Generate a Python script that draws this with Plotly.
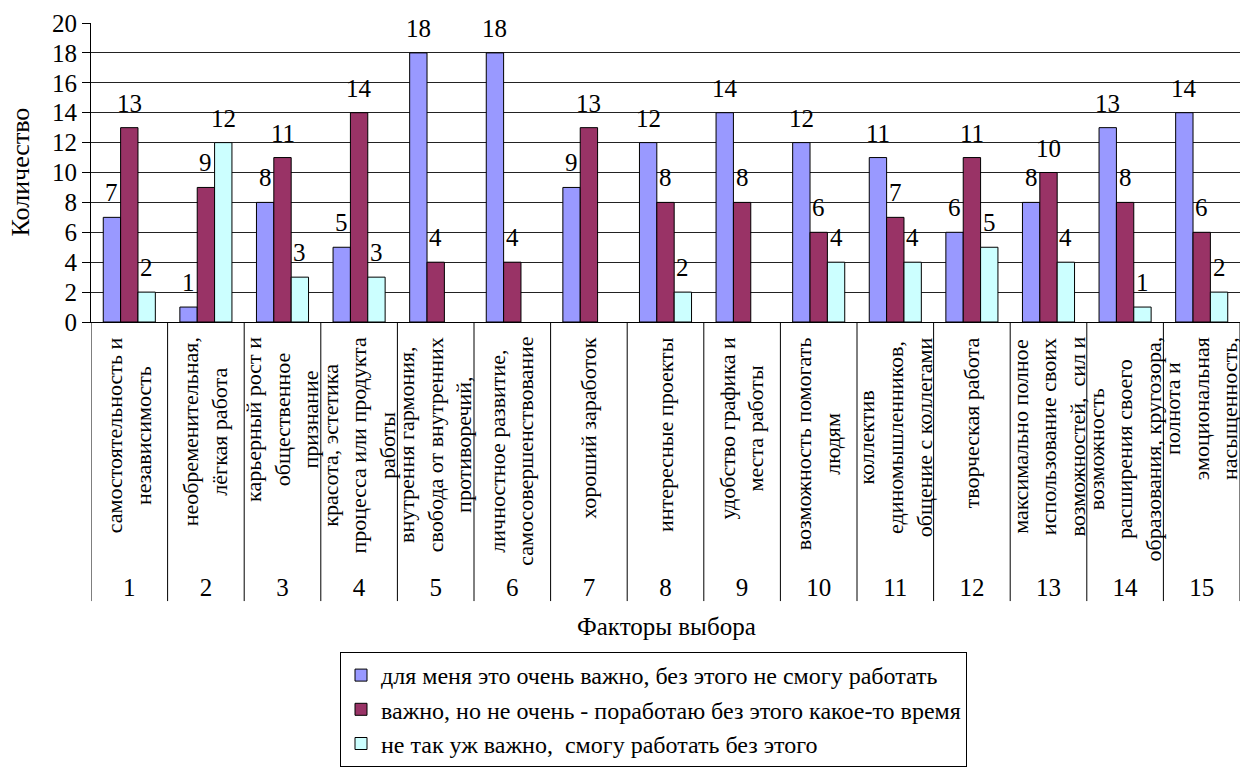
import plotly.graph_objects as go

# Factor numbers and their descriptions (line breaks as printed under the axis)
factor_ids = [str(i) for i in range(1, 16)]
factor_names = [
    "самостоятельность и<br>независимость",
    "необременительная,<br>лёгкая работа",
    "карьерный рост и<br>общественное<br>признание",
    "красота, эстетика<br>процесса или продукта<br>работы",
    "внутрення гармония,<br>свобода от внутренних<br>противоречий,",
    "личностное развитие,<br>самосовершенствование",
    "хороший заработок",
    "интересные проекты",
    "удобство графика и<br>места работы",
    "возможность помогать<br>людям",
    "коллектив<br>единомышленников,<br>общение с коллегами",
    "творческая работа",
    "максимально полное<br>использование своих<br>возможностей,  сил и",
    "возможность<br>расширения своего<br>образования, кругозора,",
    "полнота и<br>эмоциональная<br>насыщенность,",
]

series_names = [
    "для меня это очень важно, без этого не смогу работать",
    "важно, но не очень - поработаю без этого какое-то время",
    "не так уж важно,  смогу работать без этого",
]
very_important = [7, 1, 8, 5, 18, 18, 9, 12, 14, 12, 11, 6, 8, 13, 14]
somewhat_important = [13, 9, 11, 14, 4, 4, 13, 8, 8, 6, 7, 11, 10, 8, 6]
not_important = [2, 12, 3, 3, 0, 0, 0, 2, 0, 4, 4, 5, 4, 1, 2]
series_values = [very_important, somewhat_important, not_important]
series_colors = ["#9999FF", "#993366", "#CCFFFF"]

FONT = "Liberation Serif"
W, H = 1240, 767
ML, MR, MT, MB = 91, 0, 23, 444
BARGAP = 0.32

plot_w = W - ML - MR
plot_h = H - MT - MB
cat_w = plot_w / len(factor_ids)
bar_w = cat_w * (1 - BARGAP) / len(series_values)


def py(pixel_y):
    """Pixel row -> paper y."""
    return (H - MB - pixel_y) / plot_h


def px(pixel_x):
    """Pixel column -> paper x."""
    return (pixel_x - ML) / plot_w


fig = go.Figure()
for name, vals, col in zip(series_names, series_values, series_colors):
    fig.add_trace(go.Bar(
        x=factor_ids, y=vals, name=name,
        marker=dict(color=col,
                    line=dict(color="black", width=[1 if v else 0 for v in vals])),
    ))

# value labels above bars (zero values are not labelled)
for k, vals in enumerate(series_values):
    for i, v in enumerate(vals):
        if v == 0:
            continue
        fig.add_annotation(
            x=i, y=v, xref="x", yref="y", text=str(v), showarrow=False,
            xshift=(k - 1) * bar_w, yshift=9, yanchor="bottom", xanchor="center",
            font=dict(family=FONT, size=25, color="black"),
        )

# factor descriptions, rotated, below the axis
for i, label in enumerate(factor_names):
    fig.add_annotation(
        x=i, y=py(336), xref="x", yref="paper", text=label, showarrow=False,
        textangle=-90, xanchor="center", yanchor="top", align="center",
        font=dict(family=FONT, size=22, color="black"),
    )

# axis titles
fig.add_annotation(
    x=px(20), y=py(173), xref="paper", yref="paper", text="Количество",
    showarrow=False, textangle=-90, xanchor="center", yanchor="middle",
    font=dict(family=FONT, size=26, color="black"),
)
fig.add_annotation(
    x=px(666), y=py(629), xref="paper", yref="paper", text="Факторы выбора",
    showarrow=False, xanchor="center", yanchor="middle",
    font=dict(family=FONT, size=25, color="black"),
)

# vertical separators between category cells
for i in range(len(factor_ids) + 1):
    fig.add_shape(
        type="line", xref="x", yref="paper", x0=i - 0.5, x1=i - 0.5,
        y0=0, y1=py(603), line=dict(color="black", width=1),
    )

fig.update_layout(
    width=W, height=H,
    margin=dict(l=ML, r=MR, t=MT, b=MB),
    paper_bgcolor="white", plot_bgcolor="white",
    barmode="group", bargap=BARGAP, bargroupgap=0,
    font=dict(family=FONT, size=24, color="black"),
    showlegend=True,
    legend=dict(
        x=px(340), y=py(655), xanchor="left", yanchor="top",
        orientation="v", bgcolor="white", bordercolor="black", borderwidth=1,
        font=dict(family=FONT, size=24, color="black"),
        tracegroupgap=0,
    ),
)
fig.update_xaxes(
    type="category", showline=True, linecolor="black", linewidth=1,
    showgrid=False, ticks="", ticklabelstandoff=243,
    tickfont=dict(family=FONT, size=25, color="black"),
    range=[-0.5, len(factor_ids) - 0.5],
)
fig.update_yaxes(
    range=[0, 20], dtick=2, showline=True, linecolor="black", linewidth=1,
    showgrid=True, gridcolor="#222222", gridwidth=1,
    ticks="outside", ticklen=8, tickcolor="black",
    tickfont=dict(family=FONT, size=25, color="black"),
    zeroline=False,
)

fig.write_html("out.html")
